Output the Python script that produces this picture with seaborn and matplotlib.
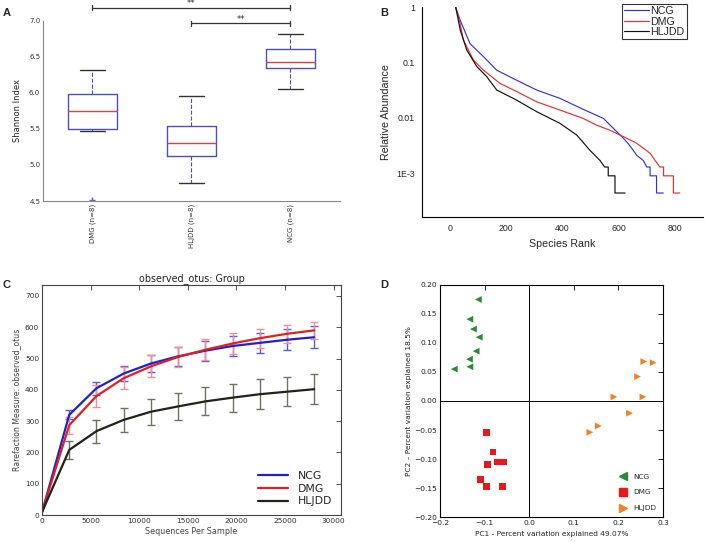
import numpy as np
import pandas as pd
import matplotlib
matplotlib.use("Agg")
import matplotlib.pyplot as plt
import seaborn as sns
from matplotlib.lines import Line2D
from matplotlib.ticker import FixedLocator, FixedFormatter, NullLocator

sns.set_style("white")
plt.rcParams['font.family'] = ['DejaVu Sans']

# ---------------- Panel A: Shannon index boxplots ----------------
a_groups = ["DMG (n=8)", "HLJDD (n=8)", "NCG (n=8)"]
a_whislo = [5.47, 4.75, 6.05]
a_q1 = [5.50, 5.13, 6.35]
a_med = [5.75, 5.30, 6.43]
a_q3 = [5.99, 5.54, 6.61]
a_whishi = [6.31, 5.96, 6.82]
a_fliers = [[4.52], [], []]
a_yticks = [4.5, 5.0, 5.5, 6.0, 6.5, 7.0]

# ---------------- Panel B: rank abundance ----------------
b_ncg_rank = [20, 36, 71, 119, 166, 237, 308, 391, 474, 546, 581, 617, 635, 652, 665,
              688, 700, 712, 712, 735, 735, 759]
b_ncg_abund = [1.0, 0.58, 0.22, 0.128, 0.073, 0.048, 0.032, 0.0226, 0.0143, 0.0098, 0.0065,
               0.0043, 0.0034, 0.0026, 0.0021, 0.0017, 0.0013, 0.0013, 0.0009, 0.0009,
               0.00044, 0.00044]
b_dmg_rank = [20, 36, 47, 83, 119, 178, 237, 308, 391, 474, 522, 569, 617, 664, 712,
              730, 747, 760, 760, 795, 795, 818]
b_dmg_abund = [1.0, 0.5, 0.26, 0.111, 0.073, 0.042, 0.030, 0.0196, 0.0139, 0.0098, 0.0074,
               0.0060, 0.0046, 0.0035, 0.0023, 0.0017, 0.0013, 0.0013, 0.0009, 0.0009,
               0.00044, 0.00044]
b_hljdd_rank = [20, 36, 59, 95, 130, 166, 237, 308, 391, 451, 498, 534, 550, 563, 563,
                587, 587, 623]
b_hljdd_abund = [1.0, 0.39, 0.17, 0.085, 0.056, 0.032, 0.021, 0.013, 0.0080, 0.0049, 0.0026,
                 0.0017, 0.0013, 0.0013, 0.0009, 0.0009, 0.00044, 0.00044]
b_yticks = [1, 0.1, 0.01, 0.001]
b_ylabels = ["1", "0.1", "0.01", "1E-3"]

# ---------------- Panel C: rarefaction ----------------
c_depth = [10, 2800, 5600, 8400, 11200, 14000, 16800, 19600, 22400, 25200, 28000]
c_ncg = [10, 320, 405, 452, 484, 507, 525, 540, 550, 560, 568]
c_ncg_sd = [0, 14, 21, 25, 27, 30, 32, 33, 33, 33, 35]
c_dmg = [10, 287, 380, 437, 475, 505, 528, 548, 565, 579, 590]
c_dmg_sd = [0, 27, 35, 35, 35, 33, 33, 33, 30, 28, 28]
c_hljdd = [10, 208, 268, 304, 330, 347, 363, 375, 386, 394, 402]
c_hljdd_sd = [0, 28, 37, 38, 41, 43, 45, 45, 47, 46, 47]

# ---------------- Panel D: PCoA ----------------
d_ncg_x = [-0.114, -0.133, -0.125, -0.112, -0.119, -0.134, -0.133, -0.168]
d_ncg_y = [0.175, 0.141, 0.124, 0.110, 0.086, 0.072, 0.059, 0.055]
d_dmg_x = [-0.095, -0.081, -0.093, -0.072, -0.057, -0.110, -0.095, -0.059]
d_dmg_y = [-0.054, -0.088, -0.109, -0.105, -0.105, -0.136, -0.148, -0.147]
d_hljdd_x = [0.257, 0.278, 0.243, 0.190, 0.255, 0.225, 0.155, 0.136]
d_hljdd_y = [0.068, 0.066, 0.042, 0.007, 0.007, -0.021, -0.043, -0.054]

DARK = "#1f2417"
GREEN = "#2a8a3a"
SQRED = "#e8191c"
ORANGE = "#ef8228"

fig = plt.figure(figsize=(7.05, 5.42), dpi=100)
axA = fig.add_axes([0.061, 0.629, 0.421, 0.333])
axB = fig.add_axes([0.5986, 0.5996, 0.3984, 0.388])
axC = fig.add_axes([0.0596, 0.0498, 0.4241, 0.4244])
axD = fig.add_axes([0.6241, 0.0461, 0.3163, 0.4281])

# ---- A ----
stats = []
for i, g in enumerate(a_groups):
    stats.append(dict(label=g, whislo=a_whislo[i], q1=a_q1[i], med=a_med[i],
                      q3=a_q3[i], whishi=a_whishi[i], fliers=a_fliers[i]))
axA.bxp(stats, positions=[1, 2, 3], widths=0.5,
        boxprops=dict(color="#4d4dc8", lw=1.0),
        medianprops=dict(color="#e04040", lw=1.0),
        whiskerprops=dict(color="#4d4dc8", ls="--", lw=0.8),
        capprops=dict(color="#333333", lw=1.0),
        flierprops=dict(marker="+", markeredgecolor="#6060c0", markersize=4))
axA.set_xlim(0.5, 3.5)
axA.set_ylim(4.5, 7.0)
axA.set_yticks(a_yticks)
axA.set_yticklabels([f"{v:.1f}" for v in a_yticks])
axA.set_xticks([1, 2, 3])
axA.set_xticklabels(a_groups, rotation=90)
for s in ["top", "right"]:
    axA.spines[s].set_visible(False)
for s in ["left", "bottom"]:
    axA.spines[s].set_color("#888888")
    axA.spines[s].set_linewidth(0.8)
axA.tick_params(direction="in", length=3, width=0.6, color="#555555", labelsize=5.0,
                labelcolor="#333333", pad=2)
axA.set_ylabel("Shannon Index", fontsize=6.0, color="#222222", labelpad=5)
# significance brackets
for (x1, x2, y) in [(1, 3, 7.18), (2, 3, 6.96)]:
    axA.plot([x1, x2], [y, y], color="#333333", lw=0.9, clip_on=False)
    axA.plot([x1, x1], [y - 0.04, y + 0.04], color="#333333", lw=0.9, clip_on=False)
    axA.plot([x2, x2], [y - 0.04, y + 0.04], color="#333333", lw=0.9, clip_on=False)
    axA.text((x1 + x2) / 2, y + 0.02, "**", ha="center", va="baseline", fontsize=6,
             color="#333333", clip_on=False)

# ---- B ----
sns.lineplot(x=b_ncg_rank, y=b_ncg_abund, sort=False, estimator=None, color="#3333dd",
             lw=0.85, ax=axB, label="NCG")
sns.lineplot(x=b_dmg_rank, y=b_dmg_abund, sort=False, estimator=None, color="#e03333",
             lw=0.85, ax=axB, label="DMG")
sns.lineplot(x=b_hljdd_rank, y=b_hljdd_abund, sort=False, estimator=None, color="#111111",
             lw=0.85, ax=axB, label="HLJDD")
axB.set_yscale("log")
axB.set_xlim(-100, 900)
axB.set_ylim(10 ** -3.79, 10 ** 0.01)
axB.yaxis.set_major_locator(FixedLocator(b_yticks))
axB.yaxis.set_major_formatter(FixedFormatter(b_ylabels))
axB.yaxis.set_minor_locator(NullLocator())
axB.set_xticks([0, 200, 400, 600, 800])
axB.xaxis.set_minor_locator(FixedLocator([-100, 100, 300, 500, 700, 900]))
for s in ["top", "right"]:
    axB.spines[s].set_visible(False)
for s in ["left", "bottom"]:
    axB.spines[s].set_color("black")
    axB.spines[s].set_linewidth(0.8)
axB.tick_params(which="both", direction="out", length=3, width=0.7, color="black",
                labelsize=6.3, pad=2)
for lab in axB.get_xticklabels() + axB.get_yticklabels():
    lab.set_family(['Liberation Sans', 'DejaVu Sans'])
axB.set_xlabel("Species Rank", fontsize=7.7, family=['Liberation Sans'], labelpad=4)
axB.set_ylabel("Relative Abundance", fontsize=7.7, family=['Liberation Sans'], labelpad=4)
legB = axB.legend(loc="upper right", bbox_to_anchor=(0.943, 1.013), borderaxespad=0,
                  frameon=True, fancybox=False, edgecolor="black",
                  handlelength=2.3, handletextpad=0.15, labelspacing=0.05, borderpad=0.2,
                  prop=dict(family=['Liberation Sans'], size=7.7))
legB.get_frame().set_linewidth(0.8)

# ---- C ----
for vals, sd, ec in [(c_ncg, c_ncg_sd, "#5a5ae0"),
                     (c_dmg, c_dmg_sd, "#f09090"),
                     (c_hljdd, c_hljdd_sd, "#6f7262")]:
    axC.errorbar(c_depth[1:], vals[1:], yerr=sd[1:], fmt="none", ecolor=ec,
                 elinewidth=1.0, capsize=2.8, capthick=1.0)
for vals, lc, lab in [(c_ncg, "#2020d0", "NCG"), (c_dmg, "#e02020", "DMG"),
                      (c_hljdd, DARK, "HLJDD")]:
    sns.lineplot(x=c_depth, y=vals, sort=False, estimator=None, color=lc, lw=1.6,
                 ax=axC, label=lab)
axC.set_xlim(0, 30760)
axC.set_ylim(0, 735)
axC.set_xticks([0, 5000, 10000, 15000, 20000, 25000, 30000])
axC.set_yticks([0, 100, 200, 300, 400, 500, 600, 700])
for s in axC.spines.values():
    s.set_color("#444444")
    s.set_linewidth(0.8)
axC.tick_params(direction="in", length=3.5, width=0.6, color="#333333", labelsize=5.4,
                labelcolor="#333333", top=True, right=True, pad=2)
axC.set_xlabel("Sequences Per Sample", fontsize=5.8, color="#444444", labelpad=2)
axC.set_ylabel("Rarefaction Measure: observed_otus", fontsize=5.6, color="#444444", labelpad=3)
axC.set_title("observed_otus: Group", fontsize=6.9, color="#222222", pad=3)
axC.legend(loc="lower right", frameon=False, fontsize=7.8, handlelength=2.8,
           handletextpad=0.9, labelspacing=0.25, borderaxespad=0.4)

# ---- D ----
dfD = pd.DataFrame({
    "PC1": d_ncg_x + d_dmg_x + d_hljdd_x,
    "PC2": d_ncg_y + d_dmg_y + d_hljdd_y,
    "Group": ["NCG"] * len(d_ncg_x) + ["DMG"] * len(d_dmg_x) + ["HLJDD"] * len(d_hljdd_x),
})
palD = {"NCG": GREEN, "DMG": SQRED, "HLJDD": ORANGE}
mkD = {"NCG": "<", "DMG": "s", "HLJDD": ">"}
sns.scatterplot(data=dfD, x="PC1", y="PC2", hue="Group", style="Group", palette=palD,
                markers=mkD, s=24, linewidth=0, ax=axD, legend=False)
axD.axhline(0, color="black", lw=0.7, zorder=0)
axD.axvline(0, color="black", lw=0.7, zorder=0)
axD.set_xlim(-0.2, 0.3)
axD.set_ylim(-0.2, 0.2)
dx = [-0.2, -0.1, 0.0, 0.1, 0.2, 0.3]
dy = [0.20, 0.15, 0.10, 0.05, 0.00, -0.05, -0.10, -0.15, -0.20]
axD.xaxis.set_major_locator(FixedLocator(dx))
axD.xaxis.set_major_formatter(FixedFormatter([f"{v:.1f}".replace("-", "\u2212") for v in dx]))
axD.yaxis.set_major_locator(FixedLocator(dy))
axD.yaxis.set_major_formatter(FixedFormatter([f"{v:.2f}".replace("-", "\u2212") for v in dy]))
for s in axD.spines.values():
    s.set_color("black")
    s.set_linewidth(0.8)
axD.tick_params(direction="in", length=3.5, width=0.6, color="black", labelsize=5.4,
                labelcolor="#222222", top=True, right=True, pad=2)
axD.set_xlabel("PC1 - Percent variation explained 49.07%", fontsize=5.3, color="#222222",
               labelpad=4)
axD.set_ylabel("PC2 \u2013 Percent variation explained 18.5%", fontsize=5.3, color="#222222",
               labelpad=2)
hD = [Line2D([], [], ls="none", marker=mkD[g], color=palD[g], markersize=5.8, label=g)
      for g in ["NCG", "DMG", "HLJDD"]]
axD.legend(handles=hD, loc="lower right", frameon=False, fontsize=5.3, handlelength=1.0,
           handletextpad=0.9, labelspacing=1.3, borderaxespad=0.4,
           bbox_to_anchor=(0.995, 0.0))

# panel letters
for lbl, x, y in [("A", 0.004, 0.985), ("B", 0.540, 0.985), ("C", 0.004, 0.483),
                  ("D", 0.540, 0.483)]:
    fig.text(x, y, lbl, fontsize=8, fontweight="bold", ha="left", va="top",
             family=["Liberation Sans", "DejaVu Sans"])

fig.savefig("out.png", dpi=100)
